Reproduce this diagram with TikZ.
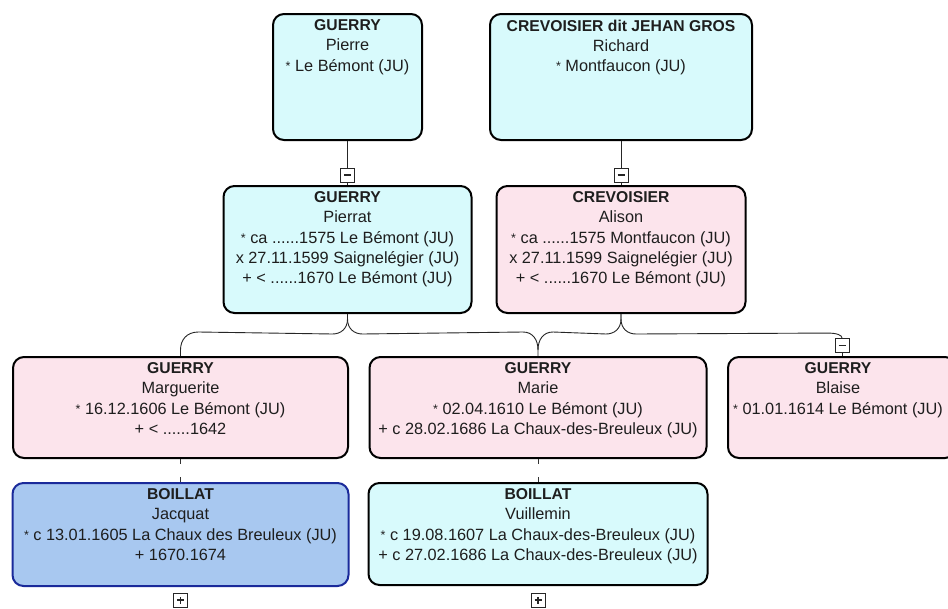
\documentclass[tikz,border=0pt]{standalone}
\usepackage{fontspec}
\setmainfont{Liberation Sans}
\usetikzlibrary{calc}
\definecolor{cyanbg}{RGB}{216,250,252}
\definecolor{pinkbg}{RGB}{252,228,236}
\definecolor{bluebg}{RGB}{168,200,240}
\definecolor{blueedge}{RGB}{26,42,154}
\definecolor{inkc}{RGB}{30,30,30}
\tikzset{
  card/.style={draw=black, line width=2pt, rounded corners=11pt, inner sep=0pt},
  cyancard/.style={card, fill=cyanbg},
  pinkcard/.style={card, fill=pinkbg},
  bluecard/.style={card, fill=bluebg, draw=blueedge},
  txt/.style={anchor=north, inner sep=0pt, align=center, text=inkc,
    font=\fontsize{16.3}{20.3}\selectfont},
  link/.style={draw=black!85, line width=0.9pt},
  tickl/.style={draw=black!80, line width=0.8pt},
  togglebox/.style={draw=black!85, line width=0.9pt, fill=white, minimum size=14pt, inner sep=0pt},
  minusbox/.style={togglebox, path picture={
    \draw[line width=1.1pt] ([xshift=-3.5pt]path picture bounding box.center) -- ([xshift=3.5pt]path picture bounding box.center);}},
  plusbox/.style={togglebox, path picture={
    \draw[line width=1.1pt] ([xshift=-3.5pt]path picture bounding box.center) -- ([xshift=3.5pt]path picture bounding box.center);
    \draw[line width=1.1pt] ([yshift=-3.5pt]path picture bounding box.center) -- ([yshift=3.5pt]path picture bounding box.center);}},
}
\newcommand{\ttl}[1]{{\fontsize{15.7}{20.3}\selectfont\bfseries #1}}
\newcommand{\bst}{{\fontsize{12.5}{12.5}\selectfont\raisebox{1.2pt}{*}}}
\begin{document}
\begin{tikzpicture}[x=1pt, y=-1pt]
\path[use as bounding box] (0,0) rectangle (948,608);
\clip (0,0) rectangle (948,608);
\fill[white] (0,0) rectangle (948,608);

% boxes
\node[cyancard, minimum width=149pt, minimum height=126pt] (p1) at (347.5,77) {};
\node[cyancard, minimum width=262pt, minimum height=126pt] (p2) at (621,77) {};
\node[cyancard, minimum width=248pt, minimum height=127pt] (p3) at (347.5,249.5) {};
\node[pinkcard, minimum width=249pt, minimum height=127pt] (p4) at (621,249.5) {};
\node[pinkcard, minimum width=335pt, minimum height=101pt] (c1) at (180.5,407.5) {};
\node[pinkcard, minimum width=337pt, minimum height=101pt] (c2) at (538,407.5) {};
\node[pinkcard, minimum width=228pt, minimum height=101pt] (c3) at (842,407.5) {};
\node[bluecard, minimum width=336pt, minimum height=103pt] (g1) at (180.5,534.5) {};
\node[cyancard, minimum width=339pt, minimum height=102pt] (g2) at (538,534) {};

% texts
\node[txt] (t1) at ($(p1.north)+(0,6.5)$) {\ttl{GUERRY}\\Pierre\\\bst{} Le Bémont (JU)};
\node[txt] (t2) at ($(p2.north)+(0,6.5)$) {\ttl{CREVOISIER dit JEHAN GROS}\\Richard\\\bst{} Montfaucon (JU)};
\node[txt] (t3) at ($(p3.north)+(0,6.5)$) {\ttl{GUERRY}\\Pierrat\\\bst{} ca ......1575 Le Bémont (JU)\\x 27.11.1599 Saignelégier (JU)\\+ < ......1670 Le Bémont (JU)};
\node[txt] (t4) at ($(p4.north)+(0,6.5)$) {\ttl{CREVOISIER}\\Alison\\\bst{} ca ......1575 Montfaucon (JU)\\x 27.11.1599 Saignelégier (JU)\\+ < ......1670 Le Bémont (JU)};
\node[txt] (t5) at ($(c1.north)+(0,6.5)$) {\ttl{GUERRY}\\Marguerite\\\bst{} 16.12.1606 Le Bémont (JU)\\+ < ......1642};
\node[txt] (t6) at ($(c2.north)+(0,6.5)$) {\ttl{GUERRY}\\Marie\\\bst{} 02.04.1610 Le Bémont (JU)\\+ c 28.02.1686 La Chaux-des-Breuleux (JU)};
\node[txt] (t7) at ($(c3.north)+(-4,6.5)$) {\ttl{GUERRY}\\Blaise\\\bst{} 01.01.1614 Le Bémont (JU)};
\node[txt] (t8) at ($(g1.north)+(0,6.5)$) {\ttl{BOILLAT}\\Jacquat\\\bst{} c 13.01.1605 La Chaux des Breuleux (JU)\\+ 1670.1674};
\node[txt] (t9) at ($(g2.north)+(0,6.5)$) {\ttl{BOILLAT}\\Vuillemin\\\bst{} c 19.08.1607 La Chaux-des-Breuleux (JU)\\+ c 27.02.1686 La Chaux-des-Breuleux (JU)};

% toggles
\node[minusbox] (m1) at (347.5,175) {};
\node[minusbox] (m2) at (621,175) {};
\node[minusbox] (m3) at (842,345.5) {};
\node[plusbox] (q1) at (180.5,600) {};
\node[plusbox] (q2) at (538,600) {};

% parent links
\draw[link] (p1.south) -- (m1.north);
\draw[link] (m1.south) -- (p3.north);
\draw[link] (p2.south) -- (m2.north);
\draw[link] (m2.south) -- (p4.north);

% child braces
\draw[link] (p3.south) -- ++(0,5) .. controls +(0,10) and +(8,0) .. ++(-15,15)
  -- ($(c1.north)+(18,-24)$) .. controls +(-12,0) and +(0,-10) .. ($(c1.north)+(0,-6)$) -- (c1.north);
\draw[link] (p3.south) -- ++(0,5) .. controls +(0,10) and +(-8,0) .. ++(15,15)
  -- ($(c2.north)+(-15,-24)$) .. controls +(10,0) and +(0,-10) .. ($(c2.north)+(0,-6)$) -- (c2.north);
\draw[link] (p4.south) -- ++(0,5) .. controls +(0,10) and +(8,0) .. ++(-15,15)
  -- ($(c2.north)+(15,-24)$) .. controls +(-10,0) and +(0,-10) .. ($(c2.north)+(0,-6)$);
\draw[link] (p4.south) -- ++(0,5) .. controls +(0,10) and +(-8,0) .. ++(15,15)
  -- ($(m3.north)+(-15,-5)$) .. controls +(10,0) and +(0,-3) .. (m3.north);
\draw[link] (m3.south) -- (c3.north);

% stubs between spouses row
\draw[tickl] (c1.south) -- ++(0,5);
\draw[tickl] (g1.north) -- ++(0,-5);
\draw[tickl] (c2.south) -- ++(0,5);
\draw[tickl] (g2.north) -- ++(0,-5);
\end{tikzpicture}
\end{document}
